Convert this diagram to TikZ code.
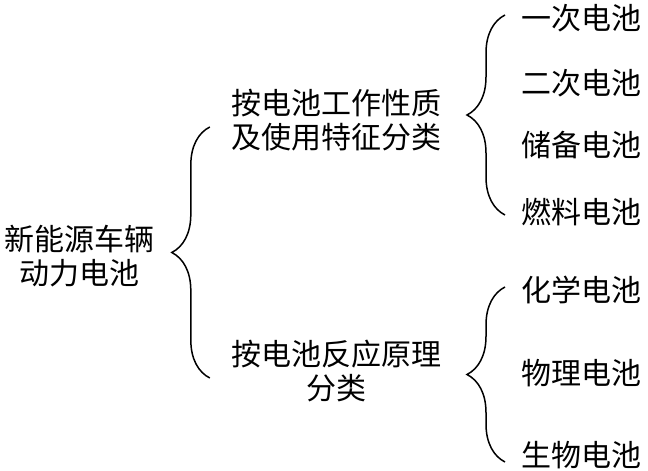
\documentclass[tikz,border=0pt]{standalone}
\usepackage{fontspec}
\newfontfamily\cjk{Noto Sans CJK SC}
\usetikzlibrary{decorations.pathreplacing}
\begin{document}
\begin{tikzpicture}[
    x=1pt, y=1pt,
    txt/.style={inner sep=0pt, align=center, font=\cjk\fontsize{30}{34}\selectfont},
    leaf/.style={txt, anchor=west},
    brace/.style={decorate, decoration={brace, amplitude=38pt}, line width=1.5pt}
]
    \useasboundingbox (0,0) rectangle (648,471);

    % Root
    \node[txt] (root) at (80,215) {新能源车辆\\动力电池};

    % Two ways of sorting
    \node[txt] (work) at (336,351) {按电池工作性质\\及使用特征分类};
    \node[txt] (react) at (336,100) {按电池反应原理\\分类};

    % Kinds of battery
    \node[leaf] (yici) at (521,453) {一次电池};
    \node[leaf] (erci) at (521,388) {二次电池};
    \node[leaf] (chubei) at (521,326) {储备电池};
    \node[leaf] (ranliao) at (521,259) {燃料电池};
    \node[leaf] (huaxue) at (521,181) {化学电池};
    \node[leaf] (wuli) at (521,98) {物理电池};
    \node[leaf] (shengwu) at (521,16) {生物电池};

    % Braces
    \draw[brace] ([xshift=-21pt,yshift=-7pt]react.west) -- ([xshift=-21pt,yshift=-7pt]work.west);
    \draw[brace] ([xshift=-16pt,yshift=-3pt]ranliao.west) -- ([xshift=-16pt,yshift=3pt]yici.west);
    \draw[brace] ([xshift=-16pt,yshift=-7pt]shengwu.west) -- ([xshift=-16pt,yshift=3pt]huaxue.west);
\end{tikzpicture}
\end{document}
